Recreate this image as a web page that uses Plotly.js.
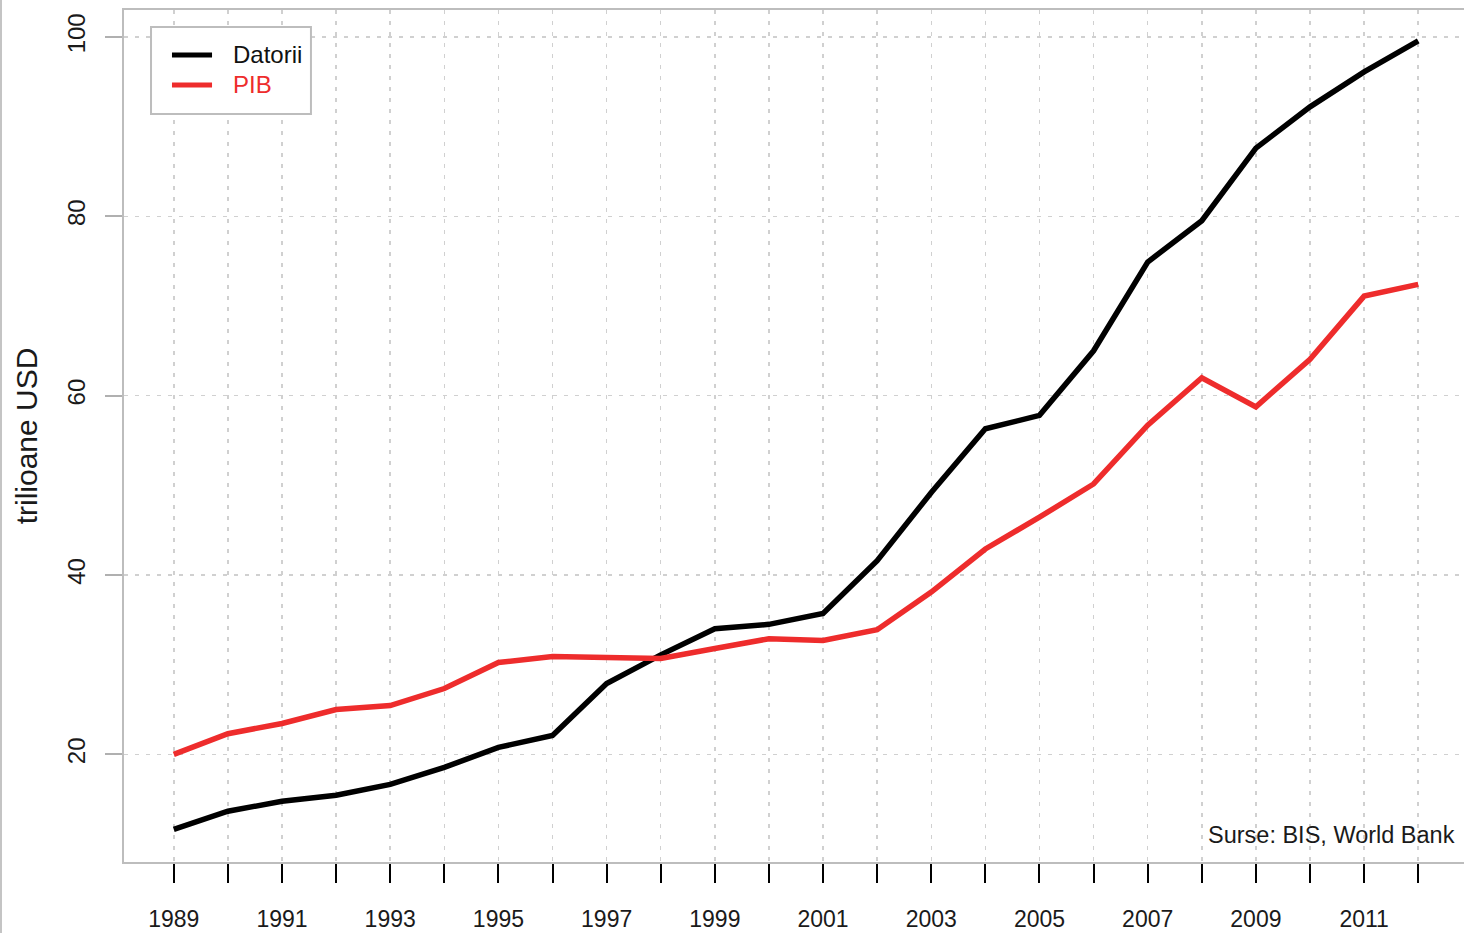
<!DOCTYPE html>
<html>
<head>
<meta charset="utf-8">
<script src="https://cdn.plot.ly/plotly-3.0.1.min.js"></script>
<style>
  html, body { margin: 0; padding: 0; background: #fff; overflow: hidden; }
  #chart { width: 1470px; height: 933px; }
  #edge { position: absolute; left: 0; top: 0; width: 2px; height: 933px; background: #c4c4c4; }
</style>
</head>
<body>
<div id="chart"></div>
<div id="edge"></div>
<script>
const years = [1989,1990,1991,1992,1993,1994,1995,1996,1997,1998,1999,2000,
               2001,2002,2003,2004,2005,2006,2007,2008,2009,2010,2011,2012];
const datorii = [11.65,13.66,14.77,15.44,16.66,18.55,20.78,22.11,27.9,31.1,34.0,34.5,
                 35.7,41.6,49.2,56.3,57.8,65.0,74.9,79.5,87.6,92.2,96.1,99.55];
const pib = [20.0,22.3,23.45,25.0,25.45,27.34,30.24,30.9,30.8,30.7,31.8,32.9,
             32.7,33.9,38.1,42.9,46.45,50.15,56.7,62.0,58.75,64.06,71.1,72.4];
const xTickLabels = years.map(y => (y % 2 === 1 ? String(y) : ''));
const yTicks = [20, 40, 60, 80, 100];
const seriesNames = ['Datorii', 'PIB'];
const seriesColors = ['#000000', '#ee2c2c'];
const sourceNote = 'Surse: BIS, World Bank';
const yTitle = 'trilioane USD';

const FONT = 'Liberation Sans, Arial, Helvetica, sans-serif';

const traces = [
  { x: years, y: datorii, type: 'scatter', mode: 'lines', name: seriesNames[0],
    line: { color: seriesColors[0], width: 5.5 }, showlegend: false },
  { x: years, y: pib, type: 'scatter', mode: 'lines', name: seriesNames[1],
    line: { color: seriesColors[1], width: 5.5 }, showlegend: false }
];

// Legend box (drawn as decoration in paper coordinates)
const legendBox = { x0: 0.0201, x1: 0.1391, y0: 0.8779, y1: 0.9800 };
const legendRowsY = [0.9472, 0.9120];
const legendLineX = [0.0357, 0.0655];
const legendTextX = 0.0797;

const shapes = [
  { type: 'rect', xref: 'paper', yref: 'paper',
    x0: legendBox.x0, x1: legendBox.x1, y0: legendBox.y0, y1: legendBox.y1,
    line: { color: '#bdbdbd', width: 2 }, fillcolor: '#ffffff', layer: 'above' }
];
const annotations = [
  { text: sourceNote, xref: 'paper', yref: 'paper', x: 0.9918, y: 0.0317,
    xanchor: 'right', yanchor: 'middle', showarrow: false,
    font: { family: FONT, size: 23.5, color: '#1a1a1a' } }
];
seriesNames.forEach((nm, i) => {
  shapes.push({ type: 'line', xref: 'paper', yref: 'paper',
    x0: legendLineX[0], x1: legendLineX[1], y0: legendRowsY[i], y1: legendRowsY[i],
    line: { color: seriesColors[i], width: 5 }, layer: 'above' });
  annotations.push({ text: nm, xref: 'paper', yref: 'paper',
    x: legendTextX, y: legendRowsY[i], xanchor: 'left', yanchor: 'middle',
    showarrow: false, font: { family: FONT, size: 24, color: i === 0 ? '#111' : seriesColors[i] } });
});

const layout = {
  width: 1470, height: 933,
  margin: { l: 124, r: 2, t: 10, b: 71 },
  paper_bgcolor: '#ffffff', plot_bgcolor: '#ffffff',
  font: { family: FONT, size: 23, color: '#1a1a1a' },
  showlegend: false,
  xaxis: {
    range: [1988.08, 2012.92],
    tickmode: 'array', tickvals: years, ticktext: xTickLabels,
    ticks: 'outside', ticklen: 19, tickwidth: 2, tickcolor: '#000',
    ticklabelstandoff: 16,
    tickfont: { family: FONT, size: 23, color: '#1a1a1a' },
    showline: true, linecolor: '#bdbdbd', linewidth: 2, mirror: true,
    showgrid: true, gridcolor: '#d0d0d0', gridwidth: 1.5, griddash: '4px,7px',
    zeroline: false
  },
  yaxis: {
    range: [8.0, 103.0],
    tickmode: 'array', tickvals: yTicks, ticktext: yTicks.map(String),
    ticks: 'outside', ticklen: 17, tickwidth: 2, tickcolor: '#b0b0b0',
    tickangle: -90, ticklabelstandoff: 10,
    tickfont: { family: FONT, size: 24, color: '#1a1a1a' },
    showline: true, linecolor: '#bdbdbd', linewidth: 2, mirror: true,
    showgrid: true, gridcolor: '#d0d0d0', gridwidth: 1.5, griddash: '4px,7px',
    zeroline: false,
    title: { text: yTitle, font: { family: FONT, size: 30, color: '#1a1a1a' }, standoff: 17 }
  },
  shapes: shapes,
  annotations: annotations
};

Plotly.newPlot('chart', traces, layout, { displayModeBar: false, staticPlot: true });
</script>
</body>
</html>
